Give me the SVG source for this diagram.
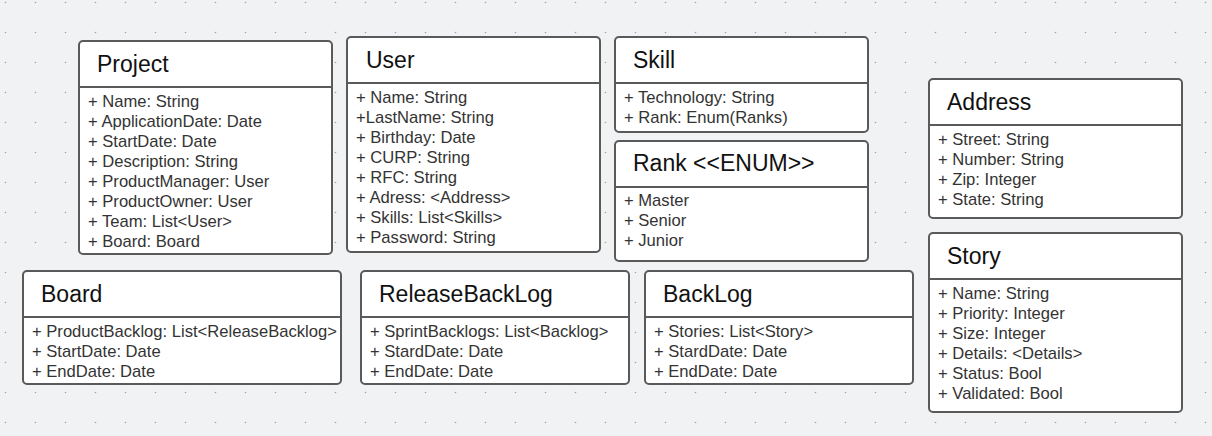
<svg xmlns="http://www.w3.org/2000/svg" width="1212" height="436" viewBox="0 0 1212 436">
<defs>
<pattern id="dots" patternUnits="userSpaceOnUse" x="0" y="0" width="30" height="30">
<circle cx="5.5" cy="2.5" r="0.8" fill="#9ea2a8"/>
</pattern>
<style>
.box{fill:#ffffff;stroke:#5a5a5a;stroke-width:2}
.div{stroke:#5a5a5a;stroke-width:2}
.title{font-family:"Liberation Sans",Arial,sans-serif;font-size:23px;fill:#111111}
.attr{font-family:"Liberation Sans",Arial,sans-serif;font-size:16.6px;fill:#333333}
</style>
</defs>
<rect x="0" y="0" width="1212" height="436" fill="#f1f2f4"/>
<rect x="0" y="0" width="1212" height="436" fill="url(#dots)"/>
<g id="connectors"></g>
<g id="project">
<rect class="box" x="79" y="41" width="253" height="213" rx="4"/>
<line class="div" x1="79" y1="87" x2="332" y2="87"/>
<text class="title" x="97" y="72">Project</text>
<text class="attr" x="88" y="107">+ Name: String</text>
<text class="attr" x="88" y="127">+ ApplicationDate: Date</text>
<text class="attr" x="88" y="147">+ StartDate: Date</text>
<text class="attr" x="88" y="167">+ Description: String</text>
<text class="attr" x="88" y="187">+ ProductManager: User</text>
<text class="attr" x="88" y="207">+ ProductOwner: User</text>
<text class="attr" x="88" y="227">+ Team: List&lt;User&gt;</text>
<text class="attr" x="88" y="247">+ Board: Board</text>
</g>
<g id="user">
<rect class="box" x="347" y="37" width="253" height="215" rx="4"/>
<line class="div" x1="347" y1="83" x2="600" y2="83"/>
<text class="title" x="366" y="68">User</text>
<text class="attr" x="356" y="103">+ Name: String</text>
<text class="attr" x="356" y="123">+LastName: String</text>
<text class="attr" x="356" y="143">+ Birthday: Date</text>
<text class="attr" x="356" y="163">+ CURP: String</text>
<text class="attr" x="356" y="183">+ RFC: String</text>
<text class="attr" x="356" y="203">+ Adress: &lt;Address&gt;</text>
<text class="attr" x="356" y="223">+ Skills: List&lt;Skills&gt;</text>
<text class="attr" x="356" y="243">+ Password: String</text>
</g>
<g id="skill">
<rect class="box" x="615" y="37" width="253" height="95" rx="4"/>
<line class="div" x1="615" y1="83" x2="868" y2="83"/>
<text class="title" x="633" y="68">Skill</text>
<text class="attr" x="624" y="103">+ Technology: String</text>
<text class="attr" x="624" y="123">+ Rank: Enum(Ranks)</text>
</g>
<g id="rank">
<rect class="box" x="615" y="141" width="253" height="120" rx="4"/>
<line class="div" x1="615" y1="187" x2="868" y2="187"/>
<text class="title" x="633" y="171">Rank &lt;&lt;ENUM&gt;&gt;</text>
<text class="attr" x="624" y="206">+ Master</text>
<text class="attr" x="624" y="226">+ Senior</text>
<text class="attr" x="624" y="246">+ Junior</text>
</g>
<g id="address">
<rect class="box" x="929" y="79" width="253" height="139" rx="4"/>
<line class="div" x1="929" y1="125" x2="1182" y2="125"/>
<text class="title" x="947" y="110">Address</text>
<text class="attr" x="938" y="145">+ Street: String</text>
<text class="attr" x="938" y="165">+ Number: String</text>
<text class="attr" x="938" y="185">+ Zip: Integer</text>
<text class="attr" x="938" y="205">+ State: String</text>
</g>
<g id="story">
<rect class="box" x="929" y="233" width="253" height="179" rx="4"/>
<line class="div" x1="929" y1="279" x2="1182" y2="279"/>
<text class="title" x="947" y="264">Story</text>
<text class="attr" x="938" y="299">+ Name: String</text>
<text class="attr" x="938" y="319">+ Priority: Integer</text>
<text class="attr" x="938" y="339">+ Size: Integer</text>
<text class="attr" x="938" y="359">+ Details: &lt;Details&gt;</text>
<text class="attr" x="938" y="379">+ Status: Bool</text>
<text class="attr" x="938" y="399">+ Validated: Bool</text>
</g>
<g id="board">
<rect class="box" x="23" y="271" width="318" height="113" rx="4"/>
<line class="div" x1="23" y1="317" x2="341" y2="317"/>
<text class="title" x="41" y="302">Board</text>
<text class="attr" x="32" y="337">+ ProductBacklog: List&lt;ReleaseBacklog&gt;</text>
<text class="attr" x="32" y="357">+ StartDate: Date</text>
<text class="attr" x="32" y="377">+ EndDate: Date</text>
</g>
<g id="releasebacklog">
<rect class="box" x="361" y="271" width="268" height="113" rx="4"/>
<line class="div" x1="361" y1="317" x2="629" y2="317"/>
<text class="title" x="379" y="302">ReleaseBackLog</text>
<text class="attr" x="370" y="337">+ SprintBacklogs: List&lt;Backlog&gt;</text>
<text class="attr" x="370" y="357">+ StardDate: Date</text>
<text class="attr" x="370" y="377">+ EndDate: Date</text>
</g>
<g id="backlog">
<rect class="box" x="645" y="271" width="268" height="113" rx="4"/>
<line class="div" x1="645" y1="317" x2="913" y2="317"/>
<text class="title" x="663" y="302">BackLog</text>
<text class="attr" x="654" y="337">+ Stories: List&lt;Story&gt;</text>
<text class="attr" x="654" y="357">+ StardDate: Date</text>
<text class="attr" x="654" y="377">+ EndDate: Date</text>
</g>
</svg>
